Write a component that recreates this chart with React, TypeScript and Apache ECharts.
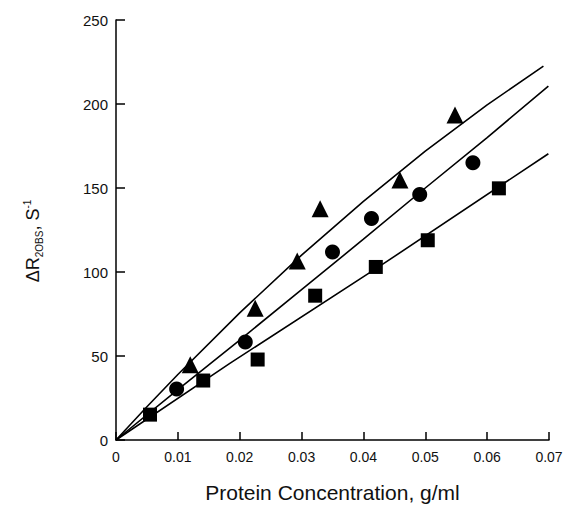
import React, { useEffect, useRef } from "react";
import * as echarts from "echarts";

const triX = [0.012, 0.0225, 0.0293, 0.033, 0.0459, 0.0548];
const triY = [44.8, 78.4, 106.5, 137.6, 154.7, 193.4];

const circX = [0.0098, 0.0209, 0.035, 0.0413, 0.0491, 0.0577];
const circY = [30.3, 58.4, 111.9, 131.9, 146.2, 165.1];

const sqX = [0.0055, 0.0141, 0.0229, 0.0322, 0.042, 0.0504, 0.0619];
const sqY = [15.1, 35.4, 47.9, 85.9, 103, 118.9, 149.8];

// Fitted curves
const topCurveX = [0, 0.005, 0.01, 0.02, 0.03, 0.04, 0.05, 0.06, 0.0691];
const topCurveY = [0, 19.8, 39, 75.7, 110, 142, 172, 199.5, 222.5];

const midCurveX = [0, 0.01, 0.02, 0.03, 0.04, 0.05, 0.06, 0.0699];
const midCurveY = [0, 30, 59.5, 89.5, 119.5, 150, 180, 210.7];

const botCurveX = [0, 0.0184, 0.0427, 0.0699];
const botCurveY = [0, 45.6, 103.6, 170.4];

// Axis settings
const xMin = 0;
const xMax = 0.07;
const xStep = 0.01;
const yMin = 0;
const yMax = 250;
const yStep = 50;

const xTitle = "Protein Concentration, g/ml";

const FONT = "'Liberation Sans', Arial, Helvetica, sans-serif";

const zip = (xs: number[], ys: number[]) => xs.map((x, i) => [x, ys[i]]);

export default function App() {
  const ref = useRef<HTMLDivElement>(null);

  useEffect(() => {
    if (!ref.current) return;
    const chart = echarts.init(ref.current, undefined, { renderer: "svg" });

    const lineSeries = (data: number[][]) => ({
      type: "line",
      data,
      showSymbol: false,
      smooth: false,
      lineStyle: { color: "#000", width: 1.6 },
      silent: true,
      z: 2,
    });

    const scatterSeries = (data: number[][], symbol: string, size: number) => ({
      type: "scatter",
      data,
      symbol,
      symbolSize: size,
      itemStyle: { color: "#000", opacity: 1 },
      z: 3,
    });

    chart.setOption({
      animation: false,
      backgroundColor: "#fff",
      grid: { left: 116, top: 20, width: 433, height: 424 },
      xAxis: {
        type: "value",
        min: xMin,
        max: xMax,
        interval: xStep,
        name: xTitle,
        nameLocation: "middle",
        nameGap: 42,
        nameTextStyle: { fontFamily: FONT, fontSize: 21, color: "#111" },
        axisLine: { show: true, lineStyle: { color: "#000", width: 1.5 } },
        axisTick: { show: true, inside: true, length: 8, lineStyle: { color: "#000", width: 1.5 } },
        axisLabel: {
          fontFamily: FONT,
          fontSize: 14,
          color: "#111",
          margin: 10,
          formatter: (v: number) => (v === 0 ? "0" : v.toFixed(2)),
        },
        splitLine: { show: false },
      },
      yAxis: {
        type: "value",
        min: yMin,
        max: yMax,
        interval: yStep,
        name: "{a|ΔR}{b|2OBS}{a|, S}{c|-1}",
        nameLocation: "middle",
        nameGap: 72,
        nameTextStyle: {
          fontFamily: FONT,
          color: "#111",
          padding: [0, 22, 0, 0],
          rich: {
            a: { fontFamily: FONT, fontSize: 18, lineHeight: 22, color: "#111" },
            b: { fontFamily: FONT, fontSize: 10, lineHeight: 10, verticalAlign: "bottom", color: "#111" },
            c: { fontFamily: FONT, fontSize: 10, lineHeight: 10, verticalAlign: "top", color: "#111" },
          },
        },
        axisLine: { show: true, lineStyle: { color: "#000", width: 1.5 } },
        axisTick: { show: true, inside: true, length: 9, lineStyle: { color: "#000", width: 1.5 } },
        axisLabel: { fontFamily: FONT, fontSize: 15, color: "#111", margin: 8 },
        splitLine: { show: false },
      },
      series: [
        lineSeries(zip(topCurveX, topCurveY)),
        lineSeries(zip(midCurveX, midCurveY)),
        lineSeries(zip(botCurveX, botCurveY)),
        scatterSeries(zip(triX, triY), "triangle", 17),
        scatterSeries(zip(circX, circY), "circle", 15),
        scatterSeries(zip(sqX, sqY), "rect", 14),
      ],
    });

    return () => chart.dispose();
  }, []);

  return (
    <div
      ref={ref}
      style={{ position: "fixed", left: 0, top: 0, width: 569, height: 508 }}
    />
  );
}
